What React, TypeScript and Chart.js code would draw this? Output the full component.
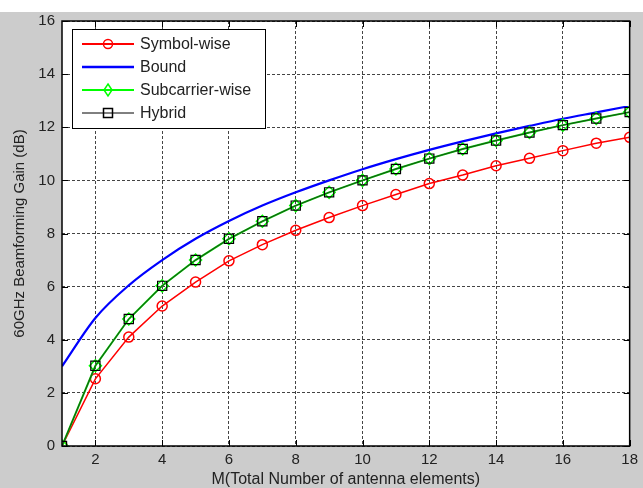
import React, { useEffect, useRef } from "react";
import { Chart, registerables } from "chart.js";

Chart.register(...registerables);

const M = [1, 2, 3, 4, 5, 6, 7, 8, 9, 10, 11, 12, 13, 14, 15, 16, 17, 18];
const symbolWise = [0, 2.53, 4.1, 5.27, 6.17, 6.97, 7.58, 8.12, 8.6, 9.05, 9.47, 9.88, 10.2, 10.55, 10.83, 11.12, 11.4, 11.62];
const bound = [3.0, 4.82, 6.05, 7.0, 7.8, 8.47, 9.05, 9.55, 10.0, 10.42, 10.8, 11.15, 11.47, 11.77, 12.05, 12.32, 12.56, 12.8];
const subcarrierWise = [0, 3.02, 4.78, 6.03, 7.0, 7.8, 8.46, 9.05, 9.55, 10.0, 10.43, 10.82, 11.18, 11.5, 11.8, 12.08, 12.33, 12.57];
const hybrid = [0, 3.02, 4.78, 6.03, 7.0, 7.8, 8.46, 9.05, 9.55, 10.0, 10.43, 10.82, 11.18, 11.5, 11.8, 12.08, 12.33, 12.57];
const xTickValues = [2, 4, 6, 8, 10, 12, 14, 16, 18];
const yTickValues = [0, 2, 4, 6, 8, 10, 12, 14, 16];
const legendLabels = ["Symbol-wise", "Bound", "Subcarrier-wise", "Hybrid"];

const FONT = "'Liberation Sans', Arial, Helvetica, sans-serif";
const TEXT = "#222222";
const FIG_BG = "#cccccc";
const GRID = "#444444";

const toPts = (vals: number[]) => M.map((m, i) => ({ x: m, y: vals[i] }));

const framePlugin = {
  id: "matlabFrame",
  beforeDraw(chart: any) {
    const { ctx, width, height, chartArea } = chart;
    ctx.save();
    ctx.fillStyle = FIG_BG;
    ctx.fillRect(0, 0, width, height);
    ctx.fillStyle = "#ffffff";
    ctx.fillRect(0, 0, width, 12);
    ctx.fillRect(chartArea.left, chartArea.top, chartArea.right - chartArea.left, chartArea.bottom - chartArea.top);
    ctx.restore();
  },
  afterDraw(chart: any) {
    const { ctx, chartArea } = chart;
    const { left, right, top, bottom } = chartArea;
    const xs = chart.scales.x;
    const ys = chart.scales.y;
    ctx.save();
    ctx.strokeStyle = "#000";
    ctx.lineWidth = 1;
    ctx.beginPath();
    xTickValues.forEach((v) => {
      const px = Math.round(xs.getPixelForValue(v)) + 0.5;
      ctx.moveTo(px, top);
      ctx.lineTo(px, top + 6);
      ctx.moveTo(px, bottom);
      ctx.lineTo(px, bottom - 6);
    });
    yTickValues.forEach((v) => {
      const py = Math.round(ys.getPixelForValue(v)) + 0.5;
      ctx.moveTo(left, py);
      ctx.lineTo(left + 6, py);
      ctx.moveTo(right, py);
      ctx.lineTo(right - 6, py);
    });
    ctx.stroke();
    ctx.lineWidth = 1.5;
    ctx.strokeRect(left, top, right - left, bottom - top);

    const lx = 72, ly = 29, lw = 193, lh = 99;
    ctx.fillStyle = "#ffffff";
    ctx.fillRect(lx, ly, lw, lh);
    ctx.lineWidth = 1;
    ctx.strokeStyle = "#000";
    ctx.strokeRect(lx + 0.5, ly + 0.5, lw, lh);
    const rows = [44, 67, 90, 113];
    const colors = ["#ff0000", "#0000ff", "#00ff00", "#000000"];
    const widths = [2, 2.5, 2, 1];
    rows.forEach((ry, i) => {
      ctx.strokeStyle = colors[i];
      ctx.lineWidth = widths[i];
      ctx.beginPath();
      ctx.moveTo(82, ry);
      ctx.lineTo(134, ry);
      ctx.stroke();
      ctx.lineWidth = 1.5;
      ctx.beginPath();
      if (i === 0) {
        ctx.arc(108, ry, 4.5, 0, Math.PI * 2);
      } else if (i === 2) {
        ctx.moveTo(108, ry - 6);
        ctx.lineTo(112, ry);
        ctx.lineTo(108, ry + 6);
        ctx.lineTo(104, ry);
        ctx.closePath();
      } else if (i === 3) {
        ctx.rect(103.5, ry - 4.5, 9, 9);
      }
      if (i !== 1) ctx.stroke();
      ctx.fillStyle = TEXT;
      ctx.font = `16px ${FONT}`;
      ctx.textBaseline = "middle";
      ctx.textAlign = "left";
      ctx.fillText(legendLabels[i], 140, ry + 1);
    });
    ctx.restore();
  },
};

export default function App() {
  const ref = useRef<HTMLCanvasElement | null>(null);
  useEffect(() => {
    if (!ref.current) return;
    const chart = new Chart(ref.current, {
      type: "line",
      data: {
        datasets: [
          {
            label: legendLabels[0],
            data: toPts(symbolWise),
            borderColor: "#ff0000",
            borderWidth: 1.5,
            pointStyle: "circle",
            pointRadius: 5,
            pointBorderWidth: 1.5,
            pointBorderColor: "#ff0000",
            pointBackgroundColor: "rgba(0,0,0,0)",
            order: 3,
          },
          {
            label: legendLabels[1],
            data: toPts(bound),
            borderColor: "#0000ff",
            borderWidth: 2.2,
            pointRadius: 0,
            cubicInterpolationMode: "monotone",
            order: 2,
          },
          {
            label: legendLabels[2],
            data: toPts(subcarrierWise),
            borderColor: "#00cc00",
            borderWidth: 2,
            pointStyle: "rectRot",
            pointRadius: 6,
            pointBorderWidth: 1.5,
            pointBorderColor: "#00ff00",
            pointBackgroundColor: "rgba(0,0,0,0)",
            order: 1,
          },
          {
            label: legendLabels[3],
            data: toPts(hybrid),
            borderColor: "#1a4d1a",
            borderWidth: 1,
            pointStyle: "rect",
            pointRadius: 6.5,
            pointBorderWidth: 1.2,
            pointBorderColor: "#000000",
            pointBackgroundColor: "rgba(0,0,0,0)",
            order: 0,
          },
        ],
      },
      options: {
        responsive: false,
        maintainAspectRatio: false,
        animation: false,
        devicePixelRatio: 1,
        layout: { padding: { left: 0, right: 10, top: 21, bottom: 0 } },
        plugins: { legend: { display: false }, tooltip: { enabled: false }, title: { display: false } },
        scales: {
          x: {
            type: "linear",
            min: 1,
            max: 18,
            afterBuildTicks: (s: any) => {
              s.ticks = xTickValues.map((v) => ({ value: v }));
            },
            afterFit: (s: any) => {
              s.height = 42;
            },
            ticks: {
              color: TEXT,
              font: { family: FONT, size: 15 },
              padding: 5,
              maxRotation: 0,
              autoSkip: false,
            },
            grid: { color: GRID, lineWidth: 1, drawTicks: false },
            border: { display: false, dash: [3, 2] },
            title: {
              display: true,
              text: "M(Total Number of antenna elements)",
              color: TEXT,
              font: { family: FONT, size: 16, lineHeight: 1 },
              padding: { top: 0, bottom: 0 },
            },
          },
          y: {
            type: "linear",
            min: 0,
            max: 16,
            afterBuildTicks: (s: any) => {
              s.ticks = yTickValues.map((v) => ({ value: v }));
            },
            afterFit: (s: any) => {
              s.width = 62;
            },
            ticks: {
              color: TEXT,
              font: { family: FONT, size: 15 },
              padding: 7,
              autoSkip: false,
            },
            grid: { color: GRID, lineWidth: 1, drawTicks: false },
            border: { display: false, dash: [3, 2] },
            title: {
              display: true,
              text: "60GHz Beamforming Gain (dB)",
              color: TEXT,
              font: { family: FONT, size: 15 },
              padding: { top: 11, bottom: 0 },
            },
          },
        },
      },
      plugins: [framePlugin],
    });
    return () => chart.destroy();
  }, []);
  return (
    <div style={{ position: "absolute", left: 0, top: 0, width: 643, height: 488 }}>
      <canvas ref={ref} width={643} height={488} style={{ width: 643, height: 488, display: "block" }} />
    </div>
  );
}
